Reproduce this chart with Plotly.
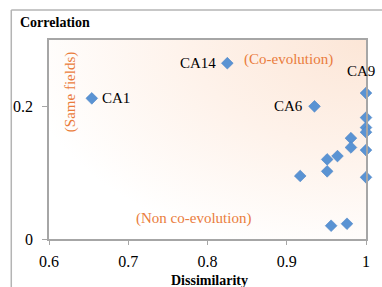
import base64
import plotly.graph_objects as go

# ---- data ----
dissimilarity = [0.654, 0.825, 0.935, 1.0, 1.0, 1.0, 1.0, 1.0, 1.0,
                 0.981, 0.981, 0.964, 0.951, 0.951, 0.917, 0.956, 0.976]
correlation = [0.212, 0.265, 0.200, 0.220, 0.183, 0.168, 0.161, 0.134, 0.093,
               0.152, 0.138, 0.125, 0.120, 0.102, 0.095, 0.020, 0.023]

label_names = ["CA1", "CA14", "CA6", "CA9"]
label_index = [0, 1, 2, 3]

x_ticks = [0.6, 0.7, 0.8, 0.9, 1.0]
x_tick_text = ["0.6", "0.7", "0.8", "0.9", "1"]
y_ticks = [0, 0.2]
y_tick_text = ["0", "0.2"]

region_texts = ["(Co-evolution)", "(Non co-evolution)", "(Same fields)"]

SERIF = "Liberation Serif, Times New Roman, serif"
ORANGE = "#ea7c3c"
BLUE = "#5a93d3"

fig = go.Figure()
fig.add_trace(go.Scatter(
    x=dissimilarity, y=correlation, mode="markers",
    marker=dict(symbol="diamond", size=9, color=BLUE,
                line=dict(width=0.6, color="#4a83c6")),
    cliponaxis=False, showlegend=False, hoverinfo="x+y",
))

# point labels
offsets = {"CA1": ("left", 8, 0), "CA14": ("right", -9, 0),
           "CA6": ("right", -9, 0), "CA9": ("center", -5, -22)}
annotations = []
for name, i in zip(label_names, label_index):
    anchor, dx, dy = offsets[name]
    annotations.append(dict(
        x=dissimilarity[i], y=correlation[i], xref="x", yref="y",
        text=name, showarrow=False, xanchor=anchor, yanchor="middle",
        xshift=dx, yshift=-dy, font=dict(family=SERIF, size=15, color="black")))

# region labels
annotations.append(dict(x=0.843, y=0.27, xref="x", yref="y", text=region_texts[0],
                        showarrow=False, xanchor="left", yanchor="middle",
                        font=dict(family=SERIF, size=15, color=ORANGE)))
annotations.append(dict(x=0.707, y=0.031, xref="x", yref="y", text=region_texts[1],
                        showarrow=False, xanchor="left", yanchor="middle",
                        font=dict(family=SERIF, size=15, color=ORANGE)))
annotations.append(dict(x=0.627, y=0.222, xref="x", yref="y", text=region_texts[2],
                        showarrow=False, textangle=-90, xanchor="center", yanchor="middle",
                        font=dict(family=SERIF, size=15, color=ORANGE)))

# axis titles
annotations.append(dict(x=-0.097, y=1.09, xref="paper", yref="paper", text="<b>Correlation</b>",
                        showarrow=False, xanchor="left", yanchor="middle",
                        font=dict(family=SERIF, size=14, color="black")))
annotations.append(dict(x=0.505, y=-0.208, xref="paper", yref="paper", text="<b>Dissimilarity</b>",
                        showarrow=False, xanchor="center", yanchor="middle",
                        font=dict(family=SERIF, size=14, color="black")))

svg = ('<svg xmlns="http://www.w3.org/2000/svg" width="320" height="199" preserveAspectRatio="none">'
       '<defs><radialGradient id="g" cx="1" cy="0" r="1.1">'
       '<stop offset="0" stop-color="#fce6d7"/><stop offset="0.5" stop-color="#fef2ea"/>'
       '<stop offset="1" stop-color="#ffffff"/></radialGradient></defs>'
       '<rect width="320" height="199" fill="url(#g)"/></svg>')
src = "data:image/svg+xml;base64," + base64.b64encode(svg.encode()).decode()

fig.update_layout(
    width=382, height=287,
    margin=dict(l=49, r=13, t=40, b=48),
    paper_bgcolor="white", plot_bgcolor="rgba(0,0,0,0)",
    annotations=annotations,
    images=[dict(source=src, xref="paper", yref="paper", x=0, y=1, sizex=1, sizey=1,
                 sizing="stretch", layer="below", xanchor="left", yanchor="top")],
    shapes=[
        dict(type="line", xref="paper", yref="paper", x0=-0.119, x1=1.2, y0=1.151, y1=1.151,
             line=dict(color="#b4b4b4", width=1.5)),
        dict(type="line", xref="paper", yref="paper", x0=-0.119, x1=-0.119, y0=1.151, y1=-0.3,
             line=dict(color="#b4b4b4", width=1.5)),
    ],
    xaxis=dict(range=[0.6, 1.0], tickvals=x_ticks, ticktext=x_tick_text,
               showgrid=False, zeroline=False, showline=True, mirror=True,
               linecolor="#a6a6a6", linewidth=1.5, ticks="outside", ticklen=4,
               tickcolor="#a6a6a6", tickfont=dict(family=SERIF, size=16, color="black"),
               ticklabelstandoff=3),
    yaxis=dict(range=[0, 0.3], tickvals=y_ticks, ticktext=y_tick_text,
               showgrid=False, zeroline=False, showline=True, mirror=True,
               linecolor="#a6a6a6", linewidth=1.5, ticks="outside", ticklen=5,
               tickcolor="#a6a6a6", tickfont=dict(family=SERIF, size=16, color="black"),
               ticklabelstandoff=6),
)

fig.write_html("out.html", config={"displayModeBar": False},
               post_script="document.body.style.margin='0';document.body.style.overflow='hidden';")
